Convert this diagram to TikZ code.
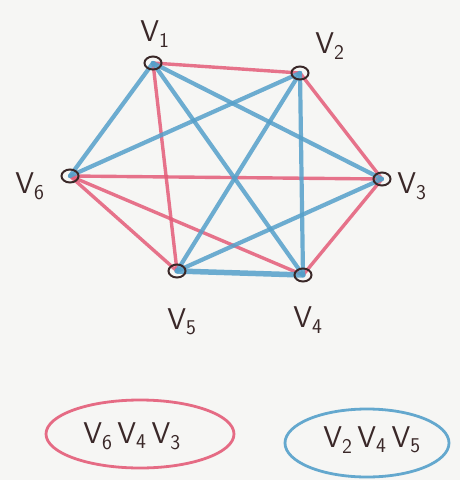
\documentclass[tikz,border=0pt]{standalone}
\usetikzlibrary{shapes.geometric,backgrounds}
\definecolor{pred}{RGB}{228,92,120}
\definecolor{pblue}{RGB}{85,160,202}
\definecolor{ink}{RGB}{58,40,40}
\definecolor{paper}{RGB}{246,246,244}
\newcommand{\lab}[1]{V\textsubscript{#1}}
\tikzset{
  vert/.style={draw=ink, ellipse, line width=2pt, minimum width=17pt, minimum height=13pt, inner sep=0pt},
  lbl/.style={text=ink, font=\sffamily\fontsize{30}{32}\selectfont, inner sep=1pt},
  redge/.style={pred, line width=3.4pt, opacity=0.85, line cap=round},
  bedge/.style={pblue, line width=4.2pt, opacity=0.85, line cap=round},
  rring/.style={draw=pred, line width=2.8pt, ellipse, opacity=0.9},
  bring/.style={draw=pblue, line width=2.8pt, ellipse, opacity=0.9},
}
\begin{document}
\begin{tikzpicture}[x=1pt,y=-1pt]
\useasboundingbox (0,0) rectangle (460,480);
\node[vert] (v1) at (153,63) {};
\node[vert] (v2) at (300,73) {};
\node[vert] (v3) at (382,179) {};
\node[vert] (v4) at (303,275) {};
\node[vert] (v5) at (177,271) {};
\node[vert] (v6) at (70,176) {};
\node[lbl] (l1) at (155,34) {\lab{1}};
\node[lbl] (l2) at (330,46) {\lab{2}};
\node[lbl] (l3) at (412,186) {\lab{3}};
\node[lbl] (l4) at (308,320) {\lab{4}};
\node[lbl] (l5) at (182,322) {\lab{5}};
\node[lbl] (l6) at (30,186) {\lab{6}};
\begin{pgfonlayer}{background}
\fill[paper] (0,0) rectangle (460,480);
\draw[redge] (v1.center) -- (v2.center);
\draw[redge] (v2.center) -- (v3.center);
\draw[redge] (v3.center) -- (v4.center);
\draw[redge] (v5.center) -- (v6.center);
\draw[redge] (v1.center) -- (v5.center);
\draw[redge] (v3.center) -- (v6.center);
\draw[redge] (v4.center) -- (v6.center);
\draw[bedge, line width=5.5pt] (v4.center) -- (v5.center);
\draw[bedge] (v6.center) -- (v1.center);
\draw[bedge] (v1.center) -- (v3.center);
\draw[bedge] (v1.center) -- (v4.center);
\draw[bedge] (v2.center) -- (v6.center);
\draw[bedge] (v2.center) -- (v5.center);
\draw[bedge] (v2.center) -- (v4.center);
\draw[bedge] (v3.center) -- (v5.center);
\end{pgfonlayer}
\node[rring, minimum width=188pt, minimum height=68pt] (r) at (140,434) {};
\node[lbl] (rt) at (132,436) {\lab{6}\,\lab{4}\,\lab{3}};
\node[bring, minimum width=164pt, minimum height=68pt] (b) at (367,443) {};
\node[lbl] (bt) at (372,440) {\lab{2}\,\lab{4}\,\lab{5}};
\end{tikzpicture}
\end{document}
